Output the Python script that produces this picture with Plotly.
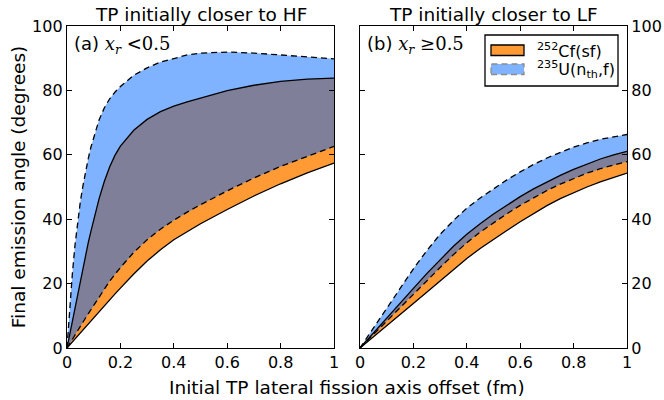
import numpy as np
import plotly.graph_objects as go
from plotly.subplots import make_subplots

# ---- data ----
x_a = [0, 0.01, 0.02, 0.03, 0.04, 0.05, 0.06, 0.07, 0.08, 0.09, 0.1, 0.12, 0.14, 0.16,
       0.18, 0.2, 0.25, 0.3, 0.35, 0.4, 0.45, 0.5, 0.6, 0.7, 0.8, 0.9, 1.0]
cf_low_a = [0, 0.95, 1.9, 2.85, 3.8, 4.75, 5.7, 6.6, 7.55, 8.5, 9.4, 11.3, 13.2, 15.0,
            16.8, 18.6, 23.0, 27.0, 30.5, 33.6, 36.2, 38.6, 43.0, 47.2, 51.0, 54.4, 57.4]
cf_up_a = [0, 4.2, 8.4, 12.6, 16.9, 21.2, 25.4, 29.2, 32.9, 36.4, 39.8, 46.3, 51.8, 56.3,
           59.9, 62.7, 67.6, 71.0, 73.4, 75.1, 76.4, 77.6, 79.9, 81.6, 82.8, 83.5, 83.8]
u_low_a = [0, 1.4, 2.8, 4.1, 5.5, 6.8, 8.1, 9.4, 10.7, 12.0, 13.3, 15.8, 18.3, 20.8,
           22.9, 25.0, 29.7, 33.6, 36.9, 39.7, 42.2, 44.5, 48.8, 52.8, 56.4, 59.6, 62.6]
u_up_a = [0, 12.0, 23.0, 32.0, 39.5, 45.5, 50.5, 55.0, 59.0, 62.5, 65.5, 70.8, 74.6, 77.4,
          79.5, 81.2, 84.7, 87.0, 88.8, 90.0, 91.0, 91.6, 91.9, 91.6, 91.0, 90.4, 89.8]

x_b = [0, 0.05, 0.1, 0.15, 0.2, 0.25, 0.3, 0.35, 0.4, 0.45, 0.5, 0.55, 0.6, 0.65, 0.7,
       0.75, 0.8, 0.85, 0.9, 0.95, 1.0]
cf_low_b = [0, 3.4, 6.8, 10.2, 13.6, 17.3, 20.8, 24.4, 27.8, 30.9, 33.8, 36.5, 39.2,
            41.8, 44.2, 46.4, 48.3, 50.0, 51.6, 53.0, 54.3]
cf_up_b = [0, 4.7, 9.3, 13.9, 18.5, 23.1, 27.5, 31.6, 35.3, 38.6, 41.6, 44.4, 47.0,
           49.4, 51.6, 53.6, 55.5, 57.2, 58.7, 60.0, 61.1]
u_low_b = [0, 4.2, 8.4, 12.6, 16.8, 21.0, 25.0, 29.0, 32.7, 36.0, 38.9, 41.7, 44.3,
           46.7, 48.9, 50.9, 52.7, 54.3, 55.7, 56.9, 57.9]
u_up_b = [0, 6.2, 12.4, 18.6, 24.6, 30.2, 35.3, 39.6, 43.4, 46.6, 49.5, 52.2, 54.7,
          57.0, 59.0, 60.8, 62.4, 63.7, 64.8, 65.6, 66.3]

x_ticks = [0, 0.2, 0.4, 0.6, 0.8, 1]
x_tick_labels = ["0", "0.2", "0.4", "0.6", "0.8", "1"]
y_ticks = [0, 20, 40, 60, 80, 100]

titles = ["TP initially closer to HF", "TP initially closer to LF"]
labels = ["(a) ", "(b) "]
conds = ["&lt;0.5", "≥0.5"]
series_names = ["<sup>252</sup>Cf(sf)", "<sup>235</sup>U(n<sub>th</sub>,f)"]

ORANGE = "#FF9A35"
BLUE = "#80B3FF"
GRAY = "#7F7F99"
FONT = "DejaVu Sans"

W, H = 664, 400
ML, MT = 67, 26
PR, PB = 627, 348          # plot right / bottom edges in px
MR, MB = W - PR, H - PB
PW, PH = W - ML - MR, H - MT - MB


def px(xs):
    """pixel x -> paper coordinate"""
    return (xs - ML) / PW


def py(ys):
    """pixel y -> paper coordinate"""
    return (PB - ys) / PH


fig = make_subplots(rows=1, cols=2, horizontal_spacing=0.0)


def band(x, lo, hi, color, col):
    x = np.asarray(x, float)
    lo = np.asarray(lo, float)
    hi = np.asarray(hi, float)
    fig.add_trace(go.Scatter(
        x=np.concatenate([x, x[::-1]]), y=np.concatenate([hi, lo[::-1]]),
        fill="toself", fillcolor=color, mode="lines", line=dict(width=0),
        hoverinfo="skip", showlegend=False), row=1, col=col)


def curve(x, y, dash, col):
    fig.add_trace(go.Scatter(
        x=x, y=y, mode="lines",
        line=dict(color="black", width=1.3, dash=dash),
        hoverinfo="skip", showlegend=False), row=1, col=col)


panels = [(x_a, cf_low_a, cf_up_a, u_low_a, u_up_a),
          (x_b, cf_low_b, cf_up_b, u_low_b, u_up_b)]
for i, (x, cl, cu, ul, uu) in enumerate(panels):
    col = i + 1
    band(x, cl, cu, ORANGE, col)
    band(x, ul, uu, BLUE, col)
    lo = np.maximum(cl, ul)
    hi = np.minimum(cu, uu)
    hi = np.maximum(hi, lo)
    band(x, lo, hi, GRAY, col)
    curve(x, cl, "solid", col)
    curve(x, cu, "solid", col)
    curve(x, ul, "6px,4px", col)
    curve(x, uu, "6px,4px", col)

axis_common = dict(range=[0, 1], showgrid=False, zeroline=False, showline=True,
                   linecolor="black", linewidth=1.3, mirror="ticks", ticks="inside",
                   ticklen=5, tickcolor="black", tickvals=x_ticks, ticktext=x_tick_labels,
                   automargin=False,
                   tickfont=dict(family=FONT, size=16, color="black"))
y_common = dict(range=[0, 100], showgrid=False, zeroline=False, showline=True,
                linecolor="black", linewidth=1.3, mirror="ticks", ticks="inside",
                ticklen=5, tickcolor="black", tickvals=y_ticks, automargin=False,
                tickfont=dict(family=FONT, size=16, color="black"))

fig.update_xaxes(**axis_common)
fig.update_yaxes(**y_common)
fig.update_layout(
    xaxis=dict(domain=[0, 267 / PW]),
    xaxis2=dict(domain=[293 / PW, 1]),
    yaxis=dict(title=dict(text="Final emission angle (degrees)",
                          font=dict(family=FONT, size=18.5, color="black"), standoff=1)),
    yaxis2=dict(side="right"),
)

annotations = []
xcenters = [133.5 / PW, (293 + 133.5) / PW]
for i in range(2):
    annotations.append(dict(
        text=titles[i], xref="paper", yref="paper", x=xcenters[i], y=1.0,
        xanchor="center", yanchor="bottom", yshift=-1, showarrow=False,
        font=dict(family=FONT, size=18.5, color="black")))
    annotations.append(dict(
        text=labels[i] + '<span style="font-family:DejaVu Serif"><i>x</i><sub><i>r</i></sub> '
             + conds[i] + "</span>",
        xref="x" + ("" if i == 0 else "2") + " domain", yref="y domain",
        x=0.02, y=0.985, xanchor="left", yanchor="top", showarrow=False,
        font=dict(family=FONT, size=18, color="black")))
annotations.append(dict(
    text="Initial TP lateral fission axis offset (fm)", xref="paper", yref="paper",
    x=0.5, y=0, yshift=-39, xanchor="center", yanchor="middle", showarrow=False,
    font=dict(family=FONT, size=18.5, color="black")))

# legend (drawn as a framed key inside panel b)
shapes = [
    dict(type="rect", xref="paper", yref="paper", x0=px(485), x1=px(618), y0=py(86), y1=py(35),
         fillcolor="white", line=dict(color="black", width=1.3), layer="above"),
    dict(type="rect", xref="paper", yref="paper", x0=px(491), x1=px(524), y0=py(55.5), y1=py(45),
         fillcolor=ORANGE, line=dict(color="black", width=1.3), layer="above"),
    dict(type="rect", xref="paper", yref="paper", x0=px(491), x1=px(524), y0=py(74.5), y1=py(64),
         fillcolor=BLUE, line=dict(color="#8c8c8c", width=1.3, dash="6px,4px"), layer="above"),
]
for name, yc in zip(series_names, [50, 69]):
    annotations.append(dict(
        text=name, xref="paper", yref="paper", x=px(535), y=py(yc),
        xanchor="left", yanchor="middle", showarrow=False,
        font=dict(family=FONT, size=16, color="black")))

fig.update_layout(
    width=W, height=H,
    margin=dict(l=ML, r=MR, t=MT, b=MB),
    paper_bgcolor="white", plot_bgcolor="white",
    annotations=annotations,
    shapes=shapes,
    showlegend=False,
)

# place the figure at the page's top-left corner (no default body margin)
fig.write_html("out.html", config={"displayModeBar": False},
               post_script="document.body.style.margin='0';document.body.style.overflow='hidden';")
